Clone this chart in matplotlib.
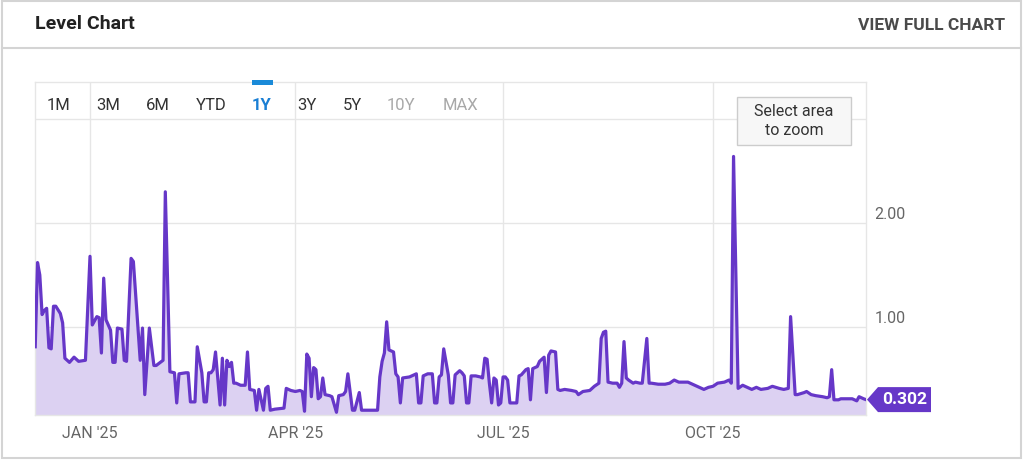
import matplotlib
matplotlib.use("Agg")
import matplotlib.pyplot as plt
import matplotlib.patches as mpatches
import matplotlib.lines as mlines
import matplotlib.transforms as mtrans
import pandas as pd
import numpy as np

plt.rcParams['font.family'] = ['Roboto', 'DejaVu Sans']

# ---------------- data ----------------
dates = [
    "2024-12-08", "2024-12-09", "2024-12-10", "2024-12-11", "2024-12-12", "2024-12-13",
    "2024-12-14", "2024-12-15", "2024-12-16", "2024-12-17", "2024-12-19", "2024-12-20",
    "2024-12-21", "2024-12-23", "2024-12-25", "2024-12-27", "2024-12-30",
    "2025-01-01", "2025-01-02", "2025-01-04", "2025-01-05", "2025-01-06", "2025-01-07",
    "2025-01-08", "2025-01-09", "2025-01-10", "2025-01-11", "2025-01-12", "2025-01-13",
    "2025-01-15", "2025-01-16", "2025-01-17", "2025-01-19", "2025-01-20", "2025-01-23",
    "2025-01-24", "2025-01-25", "2025-01-27", "2025-01-29", "2025-01-30",
    "2025-02-02", "2025-02-03", "2025-02-05", "2025-02-07", "2025-02-08", "2025-02-09",
    "2025-02-12", "2025-02-13", "2025-02-14", "2025-02-16", "2025-02-17", "2025-02-19",
    "2025-02-20", "2025-02-21", "2025-02-22", "2025-02-23", "2025-02-24", "2025-02-25",
    "2025-02-27", "2025-02-28",
    "2025-03-01", "2025-03-02", "2025-03-03", "2025-03-04", "2025-03-05", "2025-03-06",
    "2025-03-08", "2025-03-10", "2025-03-11", "2025-03-12", "2025-03-14", "2025-03-15",
    "2025-03-16", "2025-03-18", "2025-03-19", "2025-03-20", "2025-03-21", "2025-03-23",
    "2025-03-27", "2025-03-28", "2025-03-30",
    "2025-04-01", "2025-04-03", "2025-04-04", "2025-04-05", "2025-04-06", "2025-04-07",
    "2025-04-08", "2025-04-09", "2025-04-10", "2025-04-11", "2025-04-12", "2025-04-13",
    "2025-04-14", "2025-04-16", "2025-04-17", "2025-04-19", "2025-04-20", "2025-04-22",
    "2025-04-23", "2025-04-24", "2025-04-26", "2025-04-27", "2025-04-29", "2025-04-30",
    "2025-05-05", "2025-05-07", "2025-05-08", "2025-05-09", "2025-05-10", "2025-05-11",
    "2025-05-12", "2025-05-14", "2025-05-15", "2025-05-16", "2025-05-17", "2025-05-18",
    "2025-05-21", "2025-05-23", "2025-05-24", "2025-05-25", "2025-05-26", "2025-05-27",
    "2025-05-29", "2025-05-31",
    "2025-06-01", "2025-06-02", "2025-06-03", "2025-06-04", "2025-06-05", "2025-06-07",
    "2025-06-08", "2025-06-09", "2025-06-10", "2025-06-12", "2025-06-13", "2025-06-14",
    "2025-06-15", "2025-06-16", "2025-06-17", "2025-06-19", "2025-06-21", "2025-06-22",
    "2025-06-23", "2025-06-24", "2025-06-25", "2025-06-26", "2025-06-27", "2025-06-28",
    "2025-06-29", "2025-06-30",
    "2025-07-01", "2025-07-02", "2025-07-03", "2025-07-04", "2025-07-06", "2025-07-07",
    "2025-07-08", "2025-07-09", "2025-07-11", "2025-07-12", "2025-07-13", "2025-07-14",
    "2025-07-16", "2025-07-17", "2025-07-19", "2025-07-20", "2025-07-21", "2025-07-22",
    "2025-07-24", "2025-07-25", "2025-07-26", "2025-07-28", "2025-07-31",
    "2025-08-02", "2025-08-03", "2025-08-05", "2025-08-08", "2025-08-10", "2025-08-12",
    "2025-08-13", "2025-08-14", "2025-08-15", "2025-08-16", "2025-08-18", "2025-08-20",
    "2025-08-21", "2025-08-22", "2025-08-23", "2025-08-24", "2025-08-25", "2025-08-27",
    "2025-08-28", "2025-08-30", "2025-08-31",
    "2025-09-02", "2025-09-03", "2025-09-04", "2025-09-07", "2025-09-10", "2025-09-12",
    "2025-09-14", "2025-09-16", "2025-09-18", "2025-09-20", "2025-09-23", "2025-09-25",
    "2025-09-27", "2025-09-29",
    "2025-10-01", "2025-10-03", "2025-10-06", "2025-10-08", "2025-10-09", "2025-10-10",
    "2025-10-12", "2025-10-14", "2025-10-16", "2025-10-18", "2025-10-20", "2025-10-22",
    "2025-10-25", "2025-10-27", "2025-10-30",
    "2025-11-01", "2025-11-03", "2025-11-04", "2025-11-06", "2025-11-07", "2025-11-10",
    "2025-11-11", "2025-11-13", "2025-11-15", "2025-11-18", "2025-11-20", "2025-11-21",
    "2025-11-22", "2025-11-23", "2025-11-25", "2025-11-26", "2025-11-29",
    "2025-12-01", "2025-12-03", "2025-12-04", "2025-12-06", "2025-12-07",
]

levels = [
    0.81, 1.62, 1.50, 1.12, 1.16, 1.18,
    0.80, 0.79, 1.20, 1.20, 1.13, 1.04,
    0.70, 0.66, 0.71, 0.67, 0.68,
    1.68, 1.02, 1.10, 1.09, 0.75, 1.47,
    1.07, 1.02, 0.97, 0.66, 0.66, 0.99,
    0.98, 0.68, 0.67, 1.66, 1.63, 0.68,
    0.99, 0.35, 0.99, 0.63, 0.63,
    0.68, 2.30, 0.57, 0.56, 0.27, 0.55,
    0.56, 0.56, 0.28, 0.28, 0.81, 0.56,
    0.28, 0.28, 0.56, 0.56, 0.59, 0.76,
    0.25, 0.70,
    0.25, 0.68, 0.62, 0.66, 0.46, 0.46,
    0.44, 0.44, 0.76, 0.40, 0.39, 0.20,
    0.40, 0.20, 0.41, 0.43, 0.20, 0.21,
    0.22, 0.41, 0.39,
    0.38, 0.39, 0.38, 0.19, 0.74, 0.70,
    0.33, 0.61, 0.59, 0.31, 0.33, 0.51,
    0.35, 0.34, 0.33, 0.18, 0.34, 0.35,
    0.38, 0.55, 0.20, 0.20, 0.37, 0.20,
    0.20, 0.20, 0.52, 0.67, 0.75, 1.05,
    0.78, 0.76, 0.55, 0.52, 0.27, 0.51,
    0.52, 0.54, 0.55, 0.27, 0.27, 0.53,
    0.55, 0.55,
    0.27, 0.27, 0.52, 0.54, 0.79, 0.54,
    0.27, 0.27, 0.54, 0.58, 0.56, 0.53,
    0.27, 0.27, 0.53, 0.53, 0.52, 0.51,
    0.70, 0.69, 0.46, 0.27, 0.51, 0.49,
    0.25, 0.27,
    0.52, 0.52, 0.49, 0.27, 0.27, 0.27,
    0.53, 0.54, 0.59, 0.60, 0.30, 0.60,
    0.62, 0.67, 0.71, 0.37, 0.73, 0.77,
    0.76, 0.40, 0.39, 0.40, 0.39,
    0.38, 0.35, 0.38, 0.39, 0.43, 0.46,
    0.89, 0.95, 0.96, 0.47, 0.46, 0.46,
    0.42, 0.46, 0.86, 0.51, 0.49, 0.46,
    0.47, 0.46, 0.46,
    0.89, 0.46, 0.46, 0.45, 0.45, 0.46,
    0.49, 0.47, 0.47, 0.47, 0.44, 0.42,
    0.40, 0.42,
    0.43, 0.46, 0.47, 0.49, 0.46, 2.64,
    0.41, 0.44, 0.42, 0.40, 0.42, 0.40,
    0.41, 0.43, 0.41,
    0.40, 0.41, 1.10, 0.35, 0.35, 0.37,
    0.38, 0.35, 0.34, 0.33, 0.32, 0.33,
    0.59, 0.30, 0.30, 0.31, 0.31,
    0.31, 0.29, 0.33, 0.31, 0.302,
]

x_tick_dates = ["2025-01-01", "2025-04-01", "2025-07-01", "2025-10-01"]
x_tick_labels = ["JAN '25", "APR '25", "JUL '25", "OCT '25"]
y_ticks = [1.0, 2.0, 3.0]
y_tick_labels = ["1.00", "2.00", ""]
range_buttons = ["1M", "3M", "6M", "YTD", "1Y", "3Y", "5Y", "10Y", "MAX"]
title = "Level Chart"
link_text = "VIEW FULL CHART"
zoom_hint = "Select area\nto zoom"
last_label = "0.302"

# ---------------- styling ----------------
W, H = 1024, 476
LINE = "#6637c8"
FILL = "#dcd1f2"
GRID = "#e6e6e6"
TICK = "#666666"

fig = plt.figure(figsize=(W / 100, H / 100), dpi=100)
fig.patch.set_facecolor("white")


def fx(px):
    return px / W


def fy(py):
    return 1 - py / H


# outer frame and header separator
fig.add_artist(mpatches.Rectangle((fx(2), fy(458)), fx(1021) - fx(2), fy(1) - fy(458),
                                  transform=fig.transFigure, fill=False,
                                  edgecolor="#d4d4d4", linewidth=1.5))
fig.add_artist(mlines.Line2D([fx(2), fx(1021)], [fy(48), fy(48)],
                             transform=fig.transFigure, color="#d4d4d4", linewidth=1.5))
fig.text(fx(35), fy(24), title, fontsize=14, fontweight="bold", color="#222222",
         ha="left", va="center")
fig.text(fx(1005), fy(25), link_text, fontsize=12.5, fontweight="bold", color="#4a4a4a",
         ha="right", va="center")

# plot area
left, right, top, bottom = 35, 866, 82, 415
ax = fig.add_axes([fx(left), fy(bottom), fx(right) - fx(left), fy(top) - fy(bottom)])

x = pd.to_datetime(dates)
y = np.array(levels)

ymin, ymax = 0.154, 3.356
ax.set_ylim(ymin, ymax)
ax.set_xlim(pd.Timestamp("2024-12-07 21:30"), pd.Timestamp("2025-12-07 01:00"))

ax.fill_between(x, y, ymin, color=FILL, linewidth=0, zorder=2)
ax.plot(x, y, color=LINE, linewidth=2.3, solid_joinstyle="round", zorder=3)

ax.set_xticks(pd.to_datetime(x_tick_dates))
ax.set_xticklabels(x_tick_labels)
ax.set_yticks(y_ticks)
ax.set_yticklabels(y_tick_labels)
ax.yaxis.tick_right()
ax.tick_params(axis="both", length=0, colors=TICK, labelsize=11.5)
ax.tick_params(axis="x", pad=8)
ax.tick_params(axis="y", pad=6)
ax.grid(True, color=GRID, linewidth=1, zorder=0)
ax.set_axisbelow(True)
for s in ax.spines.values():
    s.set_color(GRID)
    s.set_linewidth(1)
for lab in ax.get_yticklabels():
    lab.set_transform(lab.get_transform() + mtrans.ScaledTranslation(0, 9 / 100, fig.dpi_scale_trans))
    lab.set_verticalalignment("center")

# range selector buttons
btn_x = [58, 108, 158, 211, 262, 307, 352, 401, 460]
for name, bx in zip(range_buttons, btn_x):
    col = "#333333"
    weight = "normal"
    if name == "1Y":
        col = "#1a7fd4"
        weight = "bold"
    elif name in ("10Y", "MAX"):
        col = "#a8a8a8"
    fig.text(fx(bx), fy(105), name, fontsize=12, color=col, fontweight=weight,
             ha="center", va="center")
fig.add_artist(mpatches.Rectangle((fx(252), fy(85)), fx(273) - fx(252), fy(80) - fy(85),
                                  transform=fig.transFigure, color="#1a8ad8", linewidth=0))

# zoom hint box
fig.add_artist(mpatches.Rectangle((fx(737), fy(145)), fx(851) - fx(737), fy(97) - fy(145),
                                  transform=fig.transFigure, facecolor="#f7f7f7",
                                  edgecolor="#cccccc", linewidth=1))
fig.text(fx(794), fy(121), zoom_hint, fontsize=11.5, color="#333333", ha="center",
         va="center", linespacing=1.3)

# last value flag
fig.canvas.draw()
tip = ax.transData.transform((ax.get_xlim()[1], y[-1]))
tx, ty = tip[0] + 1, tip[1]
poly = [(tx, ty), (tx + 11, ty + 12.5), (tx + 64, ty + 12.5), (tx + 64, ty - 12.5), (tx + 11, ty - 12.5)]
fig.add_artist(mpatches.Polygon(poly, closed=True, transform=None, facecolor=LINE,
                                edgecolor="none"))
fig.text((tx + 37.5) / W, ty / H, last_label, fontsize=12.5, fontweight="bold", color="white",
         ha="center", va="center")

fig.savefig("out.png", dpi=100, facecolor="white")
